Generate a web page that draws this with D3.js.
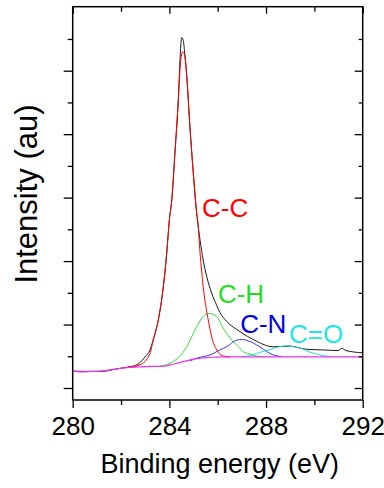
<!DOCTYPE html>
<html>
<head>
<meta charset="utf-8">
<script src="https://cdn.jsdelivr.net/npm/d3@7"></script>
<style>
  html, body { margin: 0; padding: 0; background: #fff; }
  svg { display: block; }
  text { font-family: "Liberation Sans", Arial, sans-serif; }
</style>
</head>
<body>
<svg id="chart" width="384" height="488"></svg>
<script>
// ---- data ----
const xTicksMajor = [280, 284, 288, 292];
const xTicksMinor = [282, 286, 290];
const yTicksMajor = [0, 2, 4, 6, 8, 10];
const yTicksMinor = [1, 3, 5, 7, 9, 11];

// measured spectrum (black)
const dataE = [280.00, 281.13, 281.96, 282.37, 282.65, 282.78, 282.99, 283.20, 283.33, 283.54, 283.75, 283.89, 284.00, 284.10, 284.23, 284.37, 284.44, 284.51, 284.57, 284.63, 284.72, 284.85, 284.99, 285.13, 285.27, 285.40, 285.56, 285.75, 285.96, 286.09, 286.37, 286.92, 287.54, 288.30, 288.99, 289.68, 290.37, 290.98, 291.13, 291.31, 292.00];
const dataV = [0.53, 0.52, 0.62, 0.67, 0.73, 0.80, 0.98, 1.20, 1.51, 2.14, 3.19, 4.25, 5.30, 5.93, 7.41, 9.08, 10.34, 11.04, 10.97, 10.59, 9.83, 8.24, 6.78, 5.52, 4.66, 4.03, 3.47, 2.99, 2.60, 2.38, 2.10, 1.78, 1.50, 1.30, 1.32, 1.22, 1.20, 1.18, 1.25, 1.18, 1.11];

// background (magenta)
const bgE = [280.00, 280.30, 280.72, 281.34, 281.96, 282.58, 283.20, 283.82, 284.15, 284.56, 285.06, 285.47, 285.89, 286.30, 292.00];
const bgV = [0.53, 0.51, 0.52, 0.55, 0.62, 0.66, 0.68, 0.69, 0.75, 0.83, 0.92, 0.95, 0.97, 0.98, 0.98];

// C-C component (red)
const ccE = [282.29, 282.78, 283.20, 283.33, 283.54, 283.75, 283.89, 284.00, 284.10, 284.23, 284.37, 284.47, 284.55, 284.63, 284.72, 284.85, 284.99, 285.13, 285.17, 285.27, 285.40, 285.61, 285.76, 285.96, 286.22, 286.51];
const ccV = [0.66, 0.73, 1.09, 1.51, 2.14, 3.19, 4.25, 5.30, 5.93, 7.41, 9.08, 10.34, 10.60, 10.49, 9.81, 8.24, 6.78, 5.52, 5.30, 4.25, 3.19, 2.14, 1.58, 1.20, 1.01, 0.98];

// C-H component (green)
const chE = [283.61, 284.03, 284.36, 284.72, 284.99, 285.13, 285.40, 285.65, 285.96, 286.23, 286.37, 286.64, 286.79, 287.06, 287.20, 287.61, 287.96];
const chV = [0.69, 0.78, 0.95, 1.30, 1.72, 1.93, 2.25, 2.35, 2.25, 1.88, 1.72, 1.46, 1.36, 1.14, 1.10, 1.01, 0.98];

// C-N component (blue)
const cnE = [284.85, 285.13, 285.54, 285.68, 286.09, 286.23, 286.51, 286.64, 286.99, 287.21, 287.47, 287.61, 287.89, 288.16, 288.41, 288.65];
const cnV = [0.85, 0.94, 1.01, 1.04, 1.20, 1.25, 1.37, 1.46, 1.53, 1.50, 1.42, 1.36, 1.22, 1.09, 1.02, 0.99];

// C=O component (cyan)
const coE = [286.99, 287.34, 287.61, 287.87, 288.16, 288.49, 288.85, 289.20, 289.54, 289.82, 290.10, 290.36, 290.65];
const coV = [0.98, 1.02, 1.09, 1.15, 1.21, 1.29, 1.33, 1.29, 1.22, 1.13, 1.07, 1.02, 0.99];

const labels = ["C-C", "C-H", "C-N", "C=O"];
const labelColors = ["#ff0000", "#22dd22", "#0000ee", "#22e6e6"];
const labelE = [285.35, 286.01, 286.93, 288.95];
const labelV = [5.39, 2.68, 1.73, 1.43];

// ---- layout ----
const L = 72.7, R = 362.7, T = 6.7, B = 400;
const svg = d3.select("#chart");
const x = d3.scaleLinear().domain([280, 292]).range([L, R]);
const y = d3.scaleLinear().domain([-0.378, 12.017]).range([B, T]);

const line = d3.line().x(d => x(d[0])).y(d => y(d[1])).curve(d3.curveMonotoneX);
const zip = (a, b) => a.map((v, i) => [v, b[i]]);

const plot = svg.append("g");
plot.append("path").attr("d", line(zip(dataE, dataV))).attr("fill", "none").attr("stroke", "#1a1a1a").attr("stroke-width", 1);
plot.append("path").attr("d", line(zip(chE, chV))).attr("fill", "none").attr("stroke", "#33dd33").attr("stroke-width", 1);
plot.append("path").attr("d", line(zip(cnE, cnV))).attr("fill", "none").attr("stroke", "#3333ee").attr("stroke-width", 1);
plot.append("path").attr("d", line(zip(coE, coV))).attr("fill", "none").attr("stroke", "#22dddd").attr("stroke-width", 1);
plot.append("path").attr("d", line(zip(ccE, ccV))).attr("fill", "none").attr("stroke", "#ff0000").attr("stroke-width", 1);
plot.append("path").attr("d", line(zip(bgE, bgV))).attr("fill", "none").attr("stroke", "#ee33ee").attr("stroke-width", 1.2);

// labels
labels.forEach((t, i) => {
  svg.append("text").attr("x", x(labelE[i])).attr("y", y(labelV[i]))
    .attr("font-size", 26).attr("fill", labelColors[i]).text(t);
});

// ---- axes ----
// bottom axis, outward ticks
svg.append("g").attr("transform", `translate(0,${B})`)
  .call(d3.axisBottom(x).tickValues(xTicksMajor).tickSize(8).tickFormat(d3.format("d")).tickSizeOuter(0))
  .call(g => g.select(".domain").remove())
  .call(g => g.selectAll("line").attr("stroke-width", 1.3))
  .call(g => g.selectAll("text").attr("font-size", 26).attr("dy", 0).attr("y", 35).attr("font-family", "Liberation Sans, Arial, sans-serif").attr("fill", "#000"));
svg.append("g").attr("transform", `translate(0,${B})`)
  .call(d3.axisBottom(x).tickValues(xTicksMinor).tickSize(5).tickFormat(""))
  .call(g => g.select(".domain").remove())
  .call(g => g.selectAll("line").attr("stroke-width", 1.3));
// top axis, inward ticks
svg.append("g").attr("transform", `translate(0,${T})`)
  .call(d3.axisBottom(x).tickValues(xTicksMajor).tickSize(7).tickFormat(""))
  .call(g => g.select(".domain").remove())
  .call(g => g.selectAll("line").attr("stroke-width", 1.3));
svg.append("g").attr("transform", `translate(0,${T})`)
  .call(d3.axisBottom(x).tickValues(xTicksMinor).tickSize(5).tickFormat(""))
  .call(g => g.select(".domain").remove())
  .call(g => g.selectAll("line").attr("stroke-width", 1.3));
// left axis, outward ticks
svg.append("g").attr("transform", `translate(${L},0)`)
  .call(d3.axisLeft(y).tickValues(yTicksMajor).tickSize(9).tickFormat(""))
  .call(g => g.select(".domain").remove())
  .call(g => g.selectAll("line").attr("stroke-width", 1.3));
svg.append("g").attr("transform", `translate(${L},0)`)
  .call(d3.axisLeft(y).tickValues(yTicksMinor).tickSize(5).tickFormat(""))
  .call(g => g.select(".domain").remove())
  .call(g => g.selectAll("line").attr("stroke-width", 1.3));
// right axis, inward ticks
svg.append("g").attr("transform", `translate(${R},0)`)
  .call(d3.axisLeft(y).tickValues(yTicksMajor).tickSize(8).tickFormat(""))
  .call(g => g.select(".domain").remove())
  .call(g => g.selectAll("line").attr("stroke-width", 1.3));
svg.append("g").attr("transform", `translate(${R},0)`)
  .call(d3.axisLeft(y).tickValues(yTicksMinor).tickSize(4).tickFormat(""))
  .call(g => g.select(".domain").remove())
  .call(g => g.selectAll("line").attr("stroke-width", 1.3));

// frame
svg.append("rect").attr("x", L).attr("y", T).attr("width", R - L).attr("height", B - T)
  .attr("fill", "none").attr("stroke", "#000").attr("stroke-width", 1.5);

// axis titles
svg.append("text").attr("x", (L + R) / 2 + 2).attr("y", 473).attr("text-anchor", "middle")
  .attr("font-size", 27).attr("fill", "#000").text("Binding energy (eV)");
svg.append("text").attr("transform", "translate(37,194) rotate(-90)").attr("text-anchor", "middle")
  .attr("font-size", 31).attr("fill", "#000").text("Intensity (au)");
</script>
</body>
</html>
